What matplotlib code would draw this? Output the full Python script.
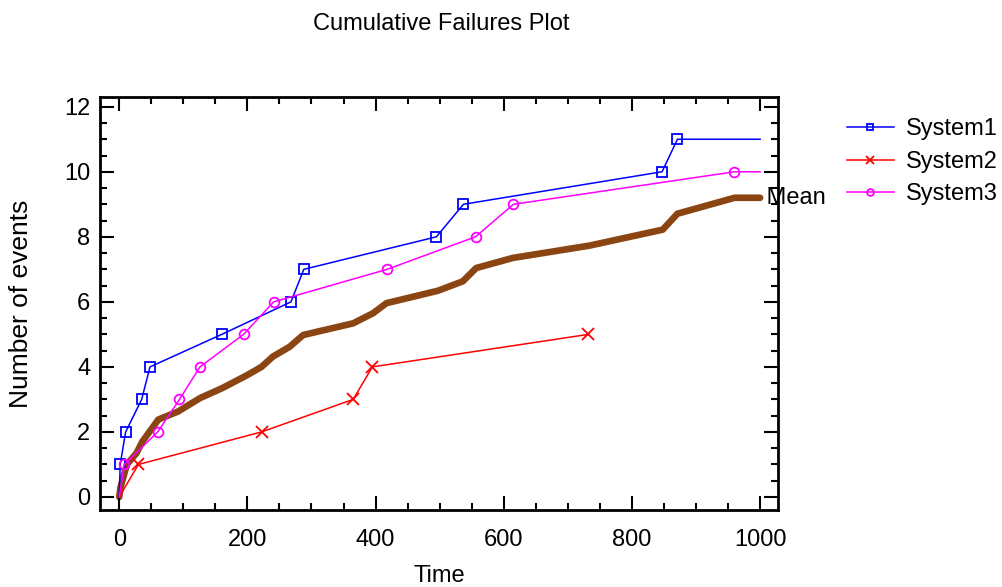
import matplotlib
matplotlib.use('Agg')
import matplotlib.pyplot as plt
from matplotlib.ticker import MultipleLocator

plt.rcParams['font.family'] = ['Liberation Sans', 'DejaVu Sans']

# event times and cumulative counts
sys1_time = [0, 1.5, 10, 35, 48, 160, 268, 288, 495, 537, 847, 871, 1000]
sys1_count = [0, 1, 2, 3, 4, 5, 6, 7, 8, 9, 10, 11, 11]

sys2_time = [0, 30, 222, 365, 395, 732]
sys2_count = [0, 1, 2, 3, 4, 5]

sys3_time = [0, 8, 60, 94, 126, 194, 241, 418, 556, 615, 960, 1000]
sys3_count = [0, 1, 2, 3, 4, 5, 6, 7, 8, 9, 10, 10]

mean_time = [0, 2, 12, 27, 36, 61, 92, 126, 162, 199, 222, 240, 266, 287,
             365, 396, 417, 497, 536, 557, 614, 734, 848, 871, 960, 1000]
mean_count = [0.0, 0.3, 1.0, 1.35, 1.7, 2.38, 2.63, 3.04, 3.36, 3.74, 4.0,
              4.32, 4.62, 4.98, 5.34, 5.65, 5.96, 6.34, 6.63, 7.04, 7.35,
              7.73, 8.22, 8.71, 9.2, 9.2]

fig = plt.figure(figsize=(10.02, 5.87), dpi=100)
ax = fig.add_axes([0.0998, 0.1312, 0.6767, 0.7036])

ax.plot(mean_time, mean_count, color='#8B4513', lw=4.8, solid_capstyle='round',
        solid_joinstyle='round', zorder=1)

ax.plot(sys1_time, sys1_count, color='#0000FF', lw=1.1, marker='s', ms=7,
        mfc='none', mew=1.3, markevery=list(range(1, 12)), label='System1')
ax.plot(sys2_time, sys2_count, color='#FF0000', lw=1.1, marker='x', ms=9,
        mew=1.3, markevery=list(range(1, 6)), label='System2')
ax.plot(sys3_time, sys3_count, color='#FF00FF', lw=1.1, marker='o', ms=7,
        mfc='none', mew=1.3, markevery=list(range(1, 11)), label='System3')

ax.text(mean_time[-1], mean_count[-1], ' Mean', fontsize=17, va='center',
        ha='left', clip_on=False)

ax.set_xlim(-30, 1028)
ax.set_ylim(-0.4, 12.3)
ax.xaxis.set_major_locator(MultipleLocator(200))
ax.xaxis.set_minor_locator(MultipleLocator(50))
ax.yaxis.set_major_locator(MultipleLocator(2))
ax.yaxis.set_minor_locator(MultipleLocator(0.5))
ax.tick_params(which='both', direction='in', top=True, right=True, width=1.5,
               labelsize=17)
ax.tick_params(which='major', length=10, pad=7)
ax.tick_params(which='minor', length=5)
ax.tick_params(axis='x', which='major', pad=14)
for s in ax.spines.values():
    s.set_linewidth(2)

ax.set_xlabel('Time', fontsize=17, labelpad=10)
ax.set_ylabel('Number of events', fontsize=19, labelpad=22)
fig.suptitle('Cumulative Failures Plot', fontsize=17, x=0.44, y=0.978)

ax.legend(loc='upper left', bbox_to_anchor=(1.07, 1.0), frameon=False,
          fontsize=17, markerscale=0.7, handlelength=2.0, handletextpad=0.5,
          labelspacing=0.45)

fig.savefig('out.png', dpi=100)
